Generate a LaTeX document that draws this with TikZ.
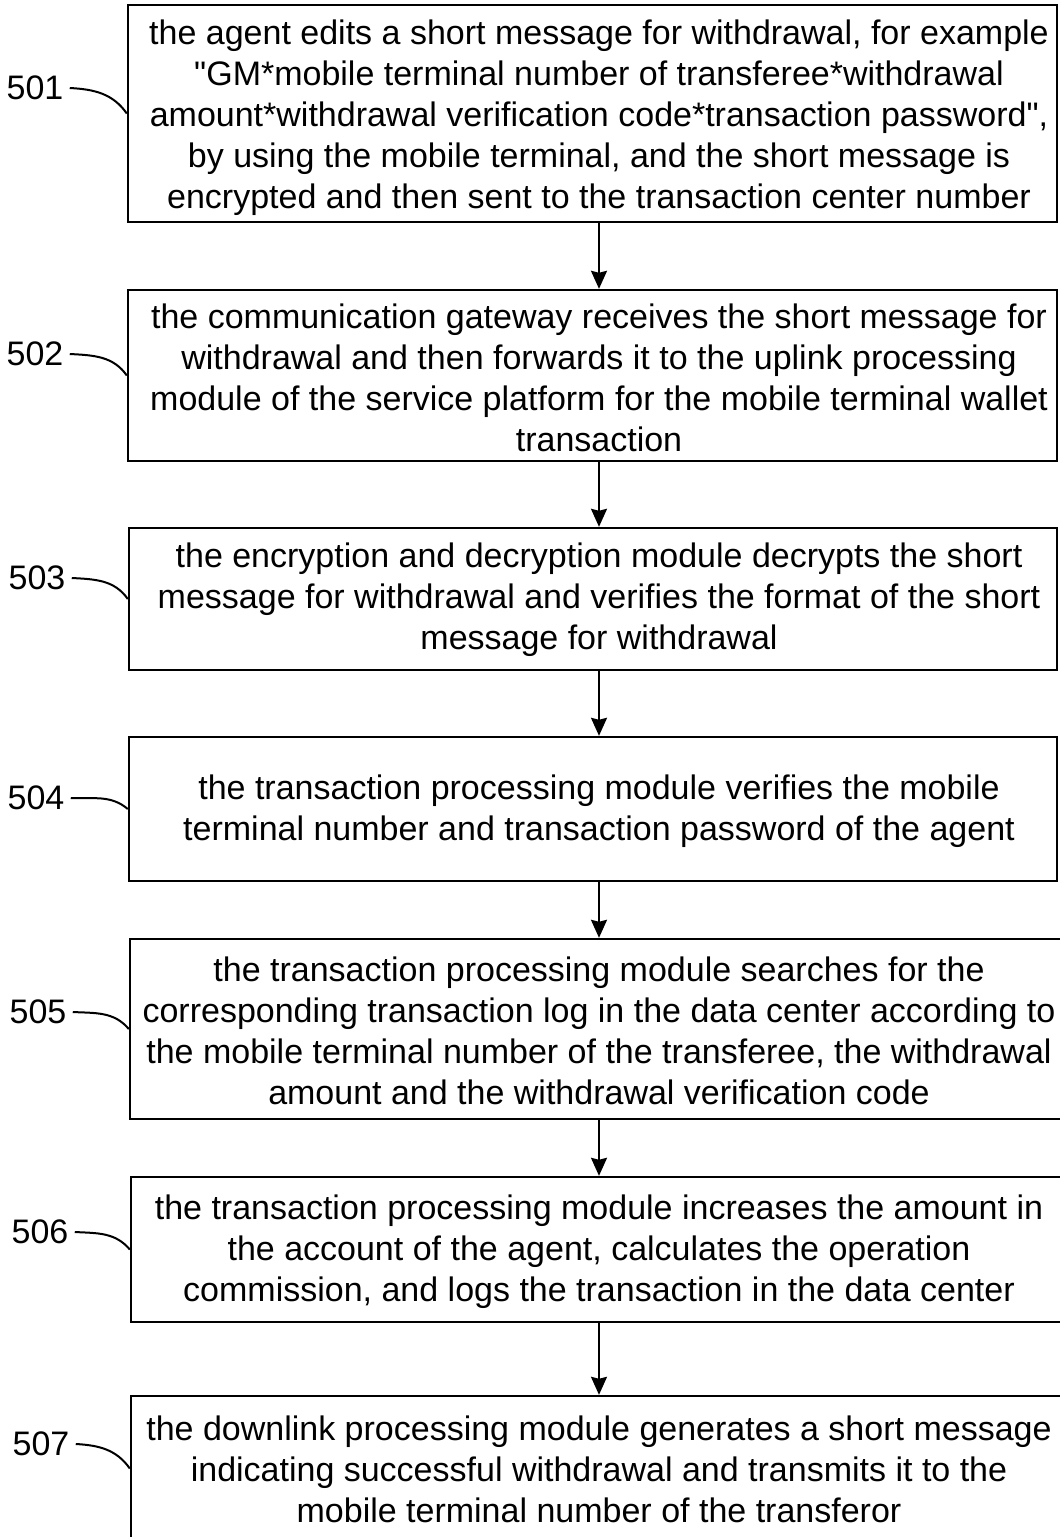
\documentclass[tikz,border=0pt]{standalone}
\usepackage{fontspec}
\setmainfont{Liberation Sans}
\usepackage{tikz}
\usetikzlibrary{arrows.meta}

\begin{document}
\begin{tikzpicture}[x=0.5pt,y=0.5pt,
	stepbox/.style={draw,line width=1.2pt,inner sep=0pt},
	steptext/.style={align=center,inner sep=0pt,font=\fontsize{17}{20.5}\selectfont},
	stepnum/.style={inner xsep=3pt,inner ysep=0pt,font=\fontsize{17}{20.5}\selectfont},
	>={Stealth[length=9pt,width=8pt,inset=1pt]}]
	\useasboundingbox (0,0) rectangle (1060,-1537);
	\clip (0,0) rectangle (1060,-1537);
	%
	%  FRAMES
	%
	\node[stepbox,minimum width=464.5pt,minimum height=108.5pt] (s501) at (592.5,-113.5) {};
	\node[stepbox,minimum width=464.5pt,minimum height=85.5pt] (s502) at (592.5,-375.5) {};
	\node[stepbox,minimum width=464pt,minimum height=71pt] (s503) at (593,-599) {};
	\node[stepbox,minimum width=464pt,minimum height=72pt] (s504) at (593,-809) {};
	\node[stepbox,minimum width=467pt,minimum height=90pt] (s505) at (597,-1029) {};
	\node[stepbox,minimum width=466.5pt,minimum height=72.5pt] (s506) at (597.5,-1249.5) {};
	\node[stepbox,minimum width=466.5pt,minimum height=72.5pt] (s507) at (597.5,-1468.5) {};
	%
	%  TEXTS
	%
	\node[steptext] (t501) at (599,-117.5) {the agent edits a short message for withdrawal, for example\\
		\textquotedbl GM*mobile terminal number of transferee*withdrawal\\
		amount*withdrawal verification code*transaction password\textquotedbl,\\
		by using the mobile terminal, and the short message is\\
		encrypted and then sent to the transaction center number};
	\node[steptext] (t502) at (599,-378) {the communication gateway receives the short message for\\
		withdrawal and then forwards it to the uplink processing\\
		module of the service platform for the mobile terminal wallet\\
		transaction};
	\node[steptext] (t503) at (599,-600) {the encryption and decryption module decrypts the short\\
		message for withdrawal and verifies the format of the short\\
		message for withdrawal};
	\node[steptext] (t504) at (599,-811) {the transaction processing module verifies the mobile\\
		terminal number and transaction password of the agent};
	\node[steptext] (t505) at (599,-1031) {the transaction processing module searches for the\\
		corresponding transaction log in the data center according to\\
		the mobile terminal number of the transferee, the withdrawal\\
		amount and the withdrawal verification code};
	\node[steptext] (t506) at (599,-1252) {the transaction processing module increases the amount in\\
		the account of the agent, calculates the operation\\
		commission, and logs the transaction in the data center};
	\node[steptext] (t507) at (599,-1469) {the downlink processing module generates a short message\\
		indicating successful withdrawal and transmits it to the\\
		mobile terminal number of the transferor};
	%
	%  NUMBERS
	%
	\node[stepnum] (l501) at (35,-88) {501};
	\node[stepnum] (l502) at (35,-354) {502};
	\node[stepnum] (l503) at (37,-578) {503};
	\node[stepnum] (l504) at (36,-798) {504};
	\node[stepnum] (l505) at (38,-1012) {505};
	\node[stepnum] (l506) at (40,-1232) {506};
	\node[stepnum] (l507) at (41,-1444) {507};
	%
	%  LEADERS
	%
	\path[line width=1pt]
	(l501.east) edge[out=-3,in=125] (s501.west)
	(l502.east) edge[out=-3,in=125] (s502.west)
	(l503.east) edge[out=-3,in=125] (s503.west)
	(l504.east) edge[out=-3,in=140] (s504.west)
	(l505.east) edge[out=-3,in=130] (s505.west)
	(l506.east) edge[out=-3,in=130] (s506.west)
	(l507.east) edge[out=-3,in=125] (s507.west);
	%
	%  ARROWS
	%
	\path[->,line width=1pt]
	(t501 |- s501.south) edge (t501 |- s502.north)
	(t502 |- s502.south) edge (t502 |- s503.north)
	(t503 |- s503.south) edge (t503 |- s504.north)
	(t504 |- s504.south) edge (t504 |- s505.north)
	(t505 |- s505.south) edge (t505 |- s506.north)
	(t506 |- s506.south) edge (t506 |- s507.north);
\end{tikzpicture}
\end{document}
